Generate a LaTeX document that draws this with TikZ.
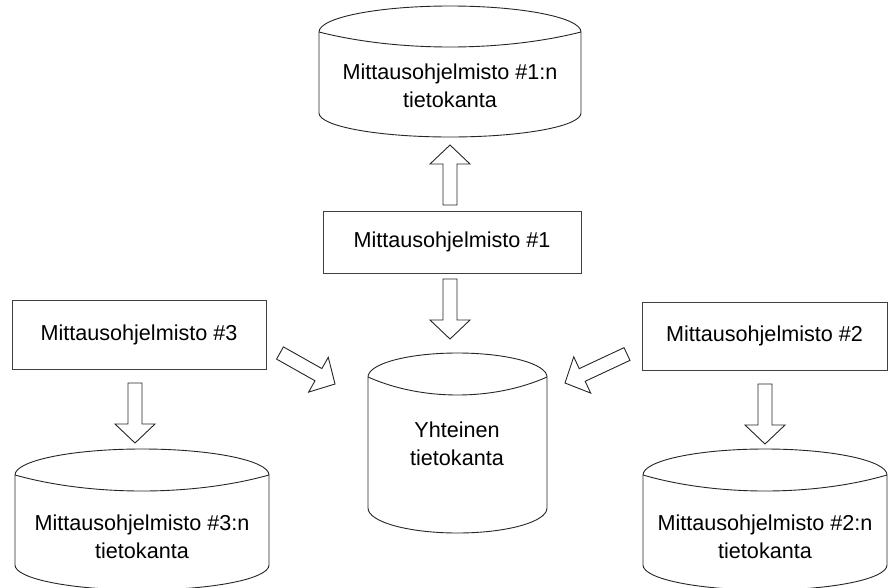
\documentclass[tikz,border=0pt]{standalone}
\usepackage{fontspec}
\setmainfont{Liberation Sans}
\usetikzlibrary{calc}
\tikzset{
  dbline/.style={draw=black!85, line width=0.9pt, fill=white},
  boxnode/.style={draw=black!75, line width=0.9pt, fill=white, inner sep=0pt, align=center, font=\fontsize{21.6}{28}\selectfont},
  dbtext/.style={inner sep=0pt, align=center, font=\fontsize{21.6}{28}\selectfont},
  barrow/.style={draw=black!85, line width=0.9pt, fill=white, line join=miter}
}
\newcommand{\dbshape}[7]{% L R Tt Ys Yf Yb Ybb
  \pgfmathsetmacro\cx{(#1+#2)/2}
  \pgfmathsetmacro\rx{(#2-#1)/2}
  \pgfmathsetmacro\ka{0.5523*\rx}
  \pgfmathsetmacro\kt{0.5523*(#4-#3)}
  \pgfmathsetmacro\kb{0.5523*(#7-#6)}
  \pgfmathsetmacro\fy{#4+(#5-#4)*4/3}
  \pgfmathsetmacro\fa{#1+0.3*(#2-#1)}
  \pgfmathsetmacro\fb{#2-0.3*(#2-#1)}
  \draw[dbline] (#1,#6) -- (#1,#4) .. controls (#1,#4-\kt) and (\cx-\ka,#3) .. (\cx,#3)
    .. controls (\cx+\ka,#3) and (#2,#4-\kt) .. (#2,#4) -- (#2,#6)
    .. controls (#2,#6+\kb) and (\cx+\ka,#7) .. (\cx,#7)
    .. controls (\cx-\ka,#7) and (#1,#6+\kb) .. cycle;
  \draw[dbline, fill=none] (#1,#4) .. controls (\fa,\fy) and (\fb,\fy) .. (#2,#4);
}
\newcommand{\blockarrow}[2]{% tail, tip
  \draw[barrow] ($(#1)!7pt!90:(#2)$)
    -- ($($(#2)!19pt!(#1)$)!7pt!-90:(#1)$)
    -- ($($(#2)!19pt!(#1)$)!20pt!-90:(#1)$)
    -- (#2)
    -- ($($(#2)!19pt!(#1)$)!20pt!90:(#1)$)
    -- ($($(#2)!19pt!(#1)$)!7pt!90:(#1)$)
    -- ($(#1)!7pt!-90:(#2)$) -- cycle;
}
\begin{document}
\begin{tikzpicture}[x=1pt, y=-1pt]
\useasboundingbox[fill=white] (0,0) rectangle (888,587);

% cylinders
\dbshape{319}{581}{6}{32}{47}{113}{137}
\node[dbtext] (db1) at (450,86) {Mittausohjelmisto \#1:n\\tietokanta};

\dbshape{368}{547}{353}{377}{395}{508}{533}
\node[dbtext] (dbc) at (457,444) {Yhteinen\\tietokanta};

\dbshape{15}{269}{449}{475}{491}{565}{590}
\node[dbtext] (db3) at (142,537) {Mittausohjelmisto \#3:n\\tietokanta};

\dbshape{643}{887}{449}{475}{491}{565}{590}
\node[dbtext] (db2) at (765,537) {Mittausohjelmisto \#2:n\\tietokanta};

% boxes
\node[boxnode, minimum width=258pt, minimum height=62pt] (m1) at (452,242) {Mittausohjelmisto \#1};
\node[boxnode, minimum width=254pt, minimum height=69pt] (m3) at (139,334.5) {Mittausohjelmisto \#3};
\node[boxnode, minimum width=245pt, minimum height=68pt] (m2) at (764.5,336) {Mittausohjelmisto \#2};

% arrow end points
\coordinate (u1t) at (450,205);
\coordinate (u1h) at (450,145);
\coordinate (d1t) at (450,279);
\coordinate (d1h) at (450,339);
\coordinate (d3t) at (135,383);
\coordinate (d3h) at (135,443);
\coordinate (d2t) at (765,384);
\coordinate (d2h) at (765,444);
\coordinate (g3t) at (280,353);
\coordinate (g3h) at (335,384);
\coordinate (g2t) at (627,354);
\coordinate (g2h) at (565,383);

\blockarrow{u1t}{u1h}
\blockarrow{d1t}{d1h}
\blockarrow{d3t}{d3h}
\blockarrow{d2t}{d2h}
\blockarrow{g3t}{g3h}
\blockarrow{g2t}{g2h}
\end{tikzpicture}
\end{document}
